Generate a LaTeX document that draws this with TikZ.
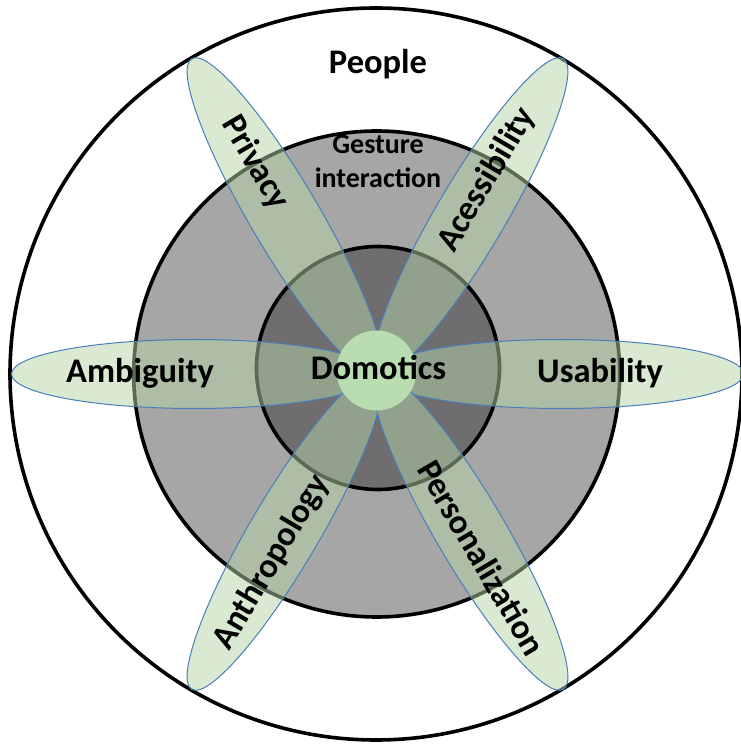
\documentclass[tikz,border=0pt]{standalone}
\usepackage{fontspec}
\setmainfont{Carlito}
\definecolor{petalfill}{RGB}{180,213,167}
\definecolor{petalline}{RGB}{74,126,187}
\definecolor{midgray}{RGB}{166,166,166}
\definecolor{innergray}{RGB}{111,109,111}
\definecolor{corefill}{RGB}{185,221,177}
\tikzset{
  ring/.style={draw=black, line width=3.6pt},
  petal/.style={fill=petalfill, fill opacity=0.5, draw=petalline, line width=1pt},
  biglabel/.style={inner sep=0pt, font=\fontsize{34.5}{41}\selectfont\bfseries},
  smalllabel/.style={inner sep=0pt, align=center, font=\fontsize{28}{34}\selectfont\bfseries},
}
\begin{document}
\begin{tikzpicture}[x=1pt,y=1pt]
\useasboundingbox (0,0) rectangle (741,745);
\clip (0,0) rectangle (741,745);
\coordinate (O) at (377.5,371);
% rings
\draw[ring, fill=white] (376,371) circle (366);
\draw[ring, fill=midgray] (376.7,371) circle (243);
\draw[ring, fill=innergray] (378,377) circle (121.5);
% petals
\foreach \a in {0,59.5,120.5,180,239.5,300.5}{
  \begin{scope}[shift={(O)}, rotate=\a]
    \draw[petal] (183,0) ellipse [x radius=183, y radius=34.5];
  \end{scope}
}
% core
\fill[corefill] (376.5,374.5) circle (40);
% labels
\node[biglabel, anchor=base] (people) at (378,671) {People};
\node[smalllabel, anchor=base] (gesture) at (378,557) {Gesture\\interaction};
\node[biglabel, anchor=base] (domotics) at (378.5,365.5) {Domotics};
\node[biglabel, anchor=base] (ambiguity) at (140,362) {Ambiguity};
\node[biglabel, anchor=base] (usability) at (600,362) {Usability};
\node[biglabel, rotate=-59.5] (privacy) at (255.2,582) {Privacy};
\node[biglabel, rotate=59.5] (acess) at (486.8,565.4) {Acessibility};
\node[biglabel, rotate=59.5] (anthro) at (271.7,182.6) {Anthropology};
\node[biglabel, rotate=-59.5] (personal) at (482,187.3) {Personalization};
\end{tikzpicture}
\end{document}
